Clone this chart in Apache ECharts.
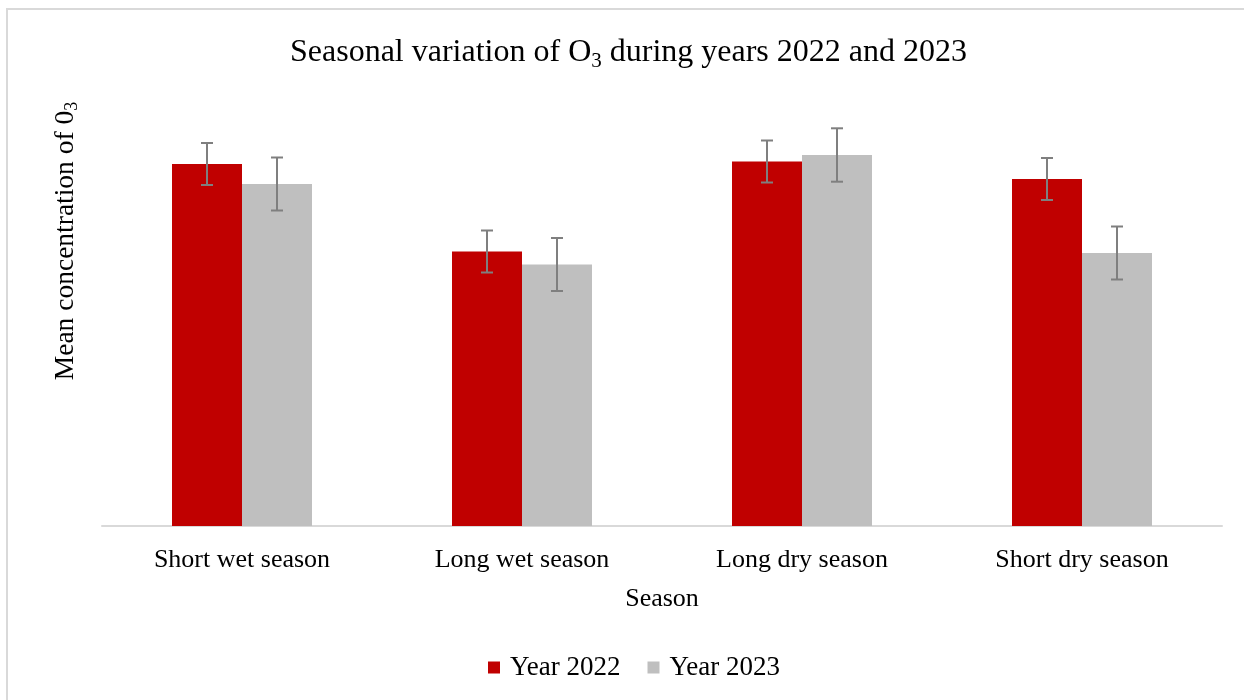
<!DOCTYPE html>
<html>
<head>
<meta charset="utf-8">
<script src="https://cdn.jsdelivr.net/npm/echarts@6/dist/echarts.min.js"></script>
<style>html,body{margin:0;padding:0;background:#fff}#c{width:1244px;height:700px}</style>
</head>
<body>
<div id="c"></div>
<script>
const categories = ['Short wet season', 'Long wet season', 'Long dry season', 'Short dry season'];
const year2022 = [362, 274.5, 364.5, 347];
const year2023 = [342, 261.5, 371, 273];
const err2022 = [21, 21, 21, 21];
const err2023 = [26.5, 26.5, 26.7, 26.5];

const FONT = '"Liberation Serif", "Times New Roman", serif';
const chart = echarts.init(document.getElementById('c'));

function errSeries(name, vals, errs, side) {
  return {
    type: 'custom',
    name: name + ' err',
    z: 10,
    silent: true,
    data: vals.map((v, i) => [i, v, errs[i]]),
    renderItem: function (params, api) {
      const i = api.value(0), v = api.value(1), e = api.value(2);
      const bw = api.size([1, 0])[0] * 0.25;
      const off = side * bw / 2;
      const top = api.coord([i, v + e]);
      const bot = api.coord([i, v - e]);
      const x = top[0] + off;
      const cap = 6;
      const st = { stroke: '#7f7f7f', lineWidth: 2, fill: null };
      return {
        type: 'group',
        children: [
          { type: 'line', shape: { x1: x, y1: top[1], x2: x, y2: bot[1] }, style: st },
          { type: 'line', shape: { x1: x - cap, y1: top[1], x2: x + cap, y2: top[1] }, style: st },
          { type: 'line', shape: { x1: x - cap, y1: bot[1], x2: x + cap, y2: bot[1] }, style: st }
        ]
      };
    }
  };
}

chart.setOption({
  animation: false,
  backgroundColor: '#ffffff',
  title: {
    text: '{a|Seasonal variation of O}{s|3}{a| during years 2022 and 2023}',
    left: 285,
    top: 28,
    textStyle: {
      fontWeight: 'normal',
      rich: {
        a: { fontFamily: FONT, fontSize: 32, fontWeight: 'normal', color: '#000', lineHeight: 40 },
        s: { fontFamily: FONT, fontSize: 21, fontWeight: 'normal', color: '#000', padding: [16, 0, 0, 0], lineHeight: 40 }
      }
    }
  },
  legend: {
    data: ['Year 2022', 'Year 2023'],
    bottom: 14,
    left: 483,
    icon: 'rect',
    itemWidth: 12,
    itemHeight: 12,
    itemGap: 27,
    textStyle: { fontFamily: FONT, fontSize: 27, color: '#000', padding: [0, 0, 0, 5] }
  },
  grid: { left: 102, right: 22, top: 126, bottom: 174 },
  xAxis: {
    type: 'category',
    data: categories,
    name: 'Season',
    nameLocation: 'middle',
    nameGap: 60,
    nameTextStyle: { fontFamily: FONT, fontSize: 26, color: '#000' },
    axisLine: { lineStyle: { color: '#d9d9d9', width: 2 } },
    axisTick: { show: false },
    axisLabel: { fontFamily: FONT, fontSize: 26, color: '#000', margin: 21 }
  },
  yAxis: {
    type: 'value',
    min: 0,
    max: 400,
    show: false,
    splitLine: { show: false }
  },
  graphic: [
    {
      type: 'rect',
      silent: true,
      shape: { x: 7, y: 9, width: 1400, height: 900 },
      style: { fill: 'none', stroke: '#d9d9d9', lineWidth: 2 }
    },
    {
      type: 'text',
      x: 66,
      y: 241,
      rotation: Math.PI / 2,
      style: {
        text: '{a|Mean concentration of 0}{s|3}',
        align: 'center',
        verticalAlign: 'middle',
        rich: {
          a: { fontFamily: FONT, fontSize: 27.5, fill: '#000', lineHeight: 34 },
          s: { fontFamily: FONT, fontSize: 18, fill: '#000', padding: [12, 0, 0, 0], lineHeight: 34 }
        }
      }
    }
  ],
  series: [
    {
      name: 'Year 2022', type: 'bar', data: year2022,
      barGap: '0%', barCategoryGap: '50%',
      itemStyle: { color: '#c00000' }
    },
    {
      name: 'Year 2023', type: 'bar', data: year2023,
      itemStyle: { color: '#bfbfbf' }
    },
    errSeries('Year 2022', year2022, err2022, -1),
    errSeries('Year 2023', year2023, err2023, 1)
  ]
});
</script>
</body>
</html>
